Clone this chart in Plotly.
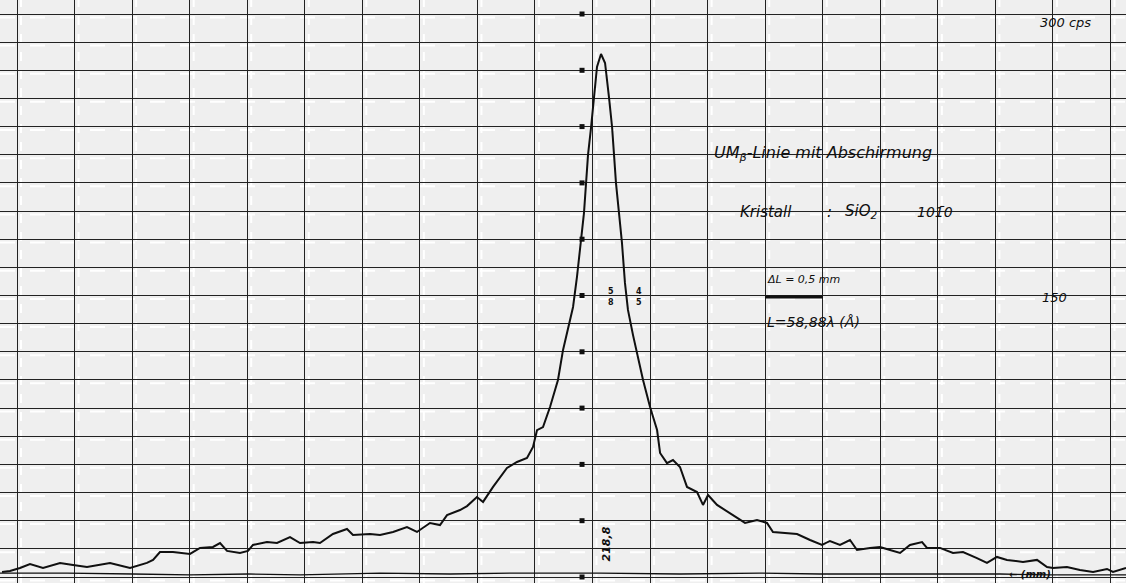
import plotly.graph_objects as go

# Recorder trace: position along the chart (mm) and count rate (cps)
pos_mm = [-0.130, -0.061, 0.026, 0.113, 0.226, 0.374, 0.487, 0.608, 0.808, 0.982,
          1.129, 1.182, 1.242, 1.355, 1.503, 1.590, 1.703, 1.764, 1.825, 1.937,
          2.007, 2.050, 2.172, 2.259, 2.372, 2.459, 2.572, 2.632, 2.745, 2.867,
          2.919, 3.067, 3.154, 3.267, 3.388, 3.475, 3.588, 3.675, 3.736, 3.849,
          3.910, 3.996, 4.049, 4.136, 4.257, 4.344, 4.431, 4.483, 4.518, 4.570,
          4.631, 4.700, 4.744, 4.787, 4.831, 4.865, 4.900, 4.918, 4.926, 4.944,
          4.961, 4.987, 5.013, 5.039, 5.074, 5.109, 5.144, 5.170, 5.187, 5.204,
          5.230, 5.256, 5.282, 5.308, 5.352, 5.396, 5.439, 5.500, 5.561, 5.587,
          5.647, 5.699, 5.760, 5.821, 5.908, 5.960, 6.004, 6.082, 6.195, 6.325,
          6.429, 6.516, 6.568, 6.655, 6.777, 6.890, 6.994, 7.063, 7.150, 7.237,
          7.298, 7.411, 7.498, 7.585, 7.672, 7.758, 7.863, 7.906, 8.019, 8.132,
          8.219, 8.340, 8.427, 8.514, 8.601, 8.740, 8.862, 8.949, 9.001, 9.122,
          9.235, 9.349, 9.470, 9.522, 9.635]
rate_cps = [2.7, 3.2, 4.8, 6.9, 4.8, 7.5, 6.4, 5.3, 7.5, 4.8,
            7.5, 9.1, 13.3, 13.3, 12.3, 15.5, 16.0, 18.1, 13.9, 12.8,
            13.9, 17.1, 18.6, 18.1, 21.3, 18.1, 18.6, 18.1, 22.9, 25.6,
            22.4, 22.9, 22.4, 24.0, 26.6, 24.0, 28.8, 27.7, 33.0, 35.7,
            37.8, 42.6, 40.0, 48.0, 58.1, 61.3, 63.4, 69.3, 78.3, 79.9,
            90.6, 105.0, 121.0, 131.6, 143.9, 159.9, 178.5, 190.2, 194.0, 209.9,
            224.9, 239.3, 255.8, 271.8, 278.7, 273.9, 255.2, 239.8, 224.9, 209.9,
            194.0, 178.0, 156.7, 142.3, 128.9, 117.2, 105.0, 90.6, 78.3, 66.1,
            60.7, 62.3, 58.6, 48.0, 45.3, 38.4, 43.7, 38.4, 34.1, 28.8,
            30.4, 28.8, 24.0, 23.4, 22.9, 19.7, 17.1, 19.2, 17.1, 19.7,
            14.4, 15.5, 16.0, 14.4, 12.8, 17.1, 18.6, 15.5, 15.5, 12.8,
            13.3, 10.1, 7.5, 10.7, 9.1, 8.0, 9.1, 5.3, 4.8, 5.3,
            3.7, 2.7, 4.3, 2.7, 4.8]

# Zero (background) line drawn by the recorder
base_mm = [-0.148, 0.435, 1.008, 1.503, 2.007, 2.459, 3.154, 3.762, 4.370, 5.065,
           5.760, 6.455, 6.977, 7.672, 8.540, 8.974, 9.635]
base_cps = [2.1, 2.1, 1.6, 1.1, 1.6, 1.1, 2.1, 1.6, 2.1, 2.1,
            1.6, 2.1, 1.6, 1.6, 1.6, 1.1, 1.1]

# Scale dots marked along the peak position
scale_mm = 4.909
scale_cps = [0, 30, 60, 90, 120, 150, 180, 210, 240, 270, 300]

# Chart paper grid: 0.5 mm per column, 15 cps per row
grid_x = [i * 0.5 for i in range(20)]
grid_y = [j * 15 for j in range(21)]

ink = "#101010"
fig = go.Figure()
fig.add_trace(go.Scatter(x=base_mm, y=base_cps, mode="lines",
                         line=dict(color=ink, width=1.3), hoverinfo="skip"))
fig.add_trace(go.Scatter(x=pos_mm, y=rate_cps, mode="lines",
                         line=dict(color=ink, width=2.0), hoverinfo="skip"))
fig.add_trace(go.Scatter(x=[scale_mm] * len(scale_cps), y=scale_cps, mode="markers",
                         marker=dict(color=ink, size=5, symbol="square"), hoverinfo="skip"))

# scan artefacts: light streaks beside the grid lines
for gx in grid_x:
    fig.add_shape(type="line", xref="x", yref="paper", x0=gx + 0.035, x1=gx + 0.035,
                  y0=0, y1=1, line=dict(color="#ffffff", width=2, dash="dash"),
                  layer="below")
for gy in grid_y:
    fig.add_shape(type="line", xref="paper", yref="y", x0=0, x1=1,
                  y0=gy - 1.8, y1=gy - 1.8,
                  line=dict(color="#ffffff", width=2, dash="longdash"), layer="below")

fnt = "DejaVu Sans"
def note(x, y, text, size=12, xanchor="left", angle=0):
    fig.add_annotation(x=x, y=y, text=text, showarrow=False, xanchor=xanchor,
                       yanchor="middle", textangle=angle,
                       font=dict(family=fnt, size=size, color=ink))

note(9.11, 295.7, "<i>300 cps</i>", 13, "center")
note(6.04, 225.5, "<i>UM<sub>β</sub>-Linie mit Abschirmung</i>", 16)
note(6.26, 194.5, "<i>Kristall</i>", 15)
note(7.02, 194.5, "<i>:</i>", 15)
note(7.18, 194.5, "<i>SiO<sub>2</sub></i>", 15)
note(7.80, 194.5, "<i>101̄0</i>", 14)
note(6.50, 158.3, "<i>ΔL = 0,5 mm</i>", 11)
note(6.50, 135.9, "<i>L=58,88λ (Å)</i>", 14)
note(9.01, 149.2, "<i>150</i>", 13, "center")
note(5.12, 17.5, "<i><b>218,8</b></i>", 11, "center", -90)
note(8.80, 1.5, "<i><b>← (mm)</b></i>", 10, "center")
note(5.16, 152.0, "<b>5</b>", 8, "center")
note(5.16, 146.5, "<b>8</b>", 8, "center")
note(5.40, 152.0, "<b>4</b>", 8, "center")
note(5.40, 146.5, "<b>5</b>", 8, "center")

fig.add_shape(type="line", x0=6.50, x1=7.00, y0=149.2, y1=149.2,
              line=dict(color=ink, width=3))

fig.update_layout(
    width=1126, height=583, margin=dict(l=0, r=0, t=0, b=0),
    paper_bgcolor="#efefef", plot_bgcolor="#efefef", showlegend=False,
    xaxis=dict(range=[-0.1477, 9.635], tick0=0, dtick=0.5, showgrid=True,
               gridcolor="#222222", gridwidth=1.1, showticklabels=False,
               zeroline=False, ticks=""),
    yaxis=dict(range=[-3.197, 307.46], tick0=0, dtick=15, showgrid=True,
               gridcolor="#222222", gridwidth=1.1, showticklabels=False,
               zeroline=False, ticks=""),
)
fig.write_html("out.html")
